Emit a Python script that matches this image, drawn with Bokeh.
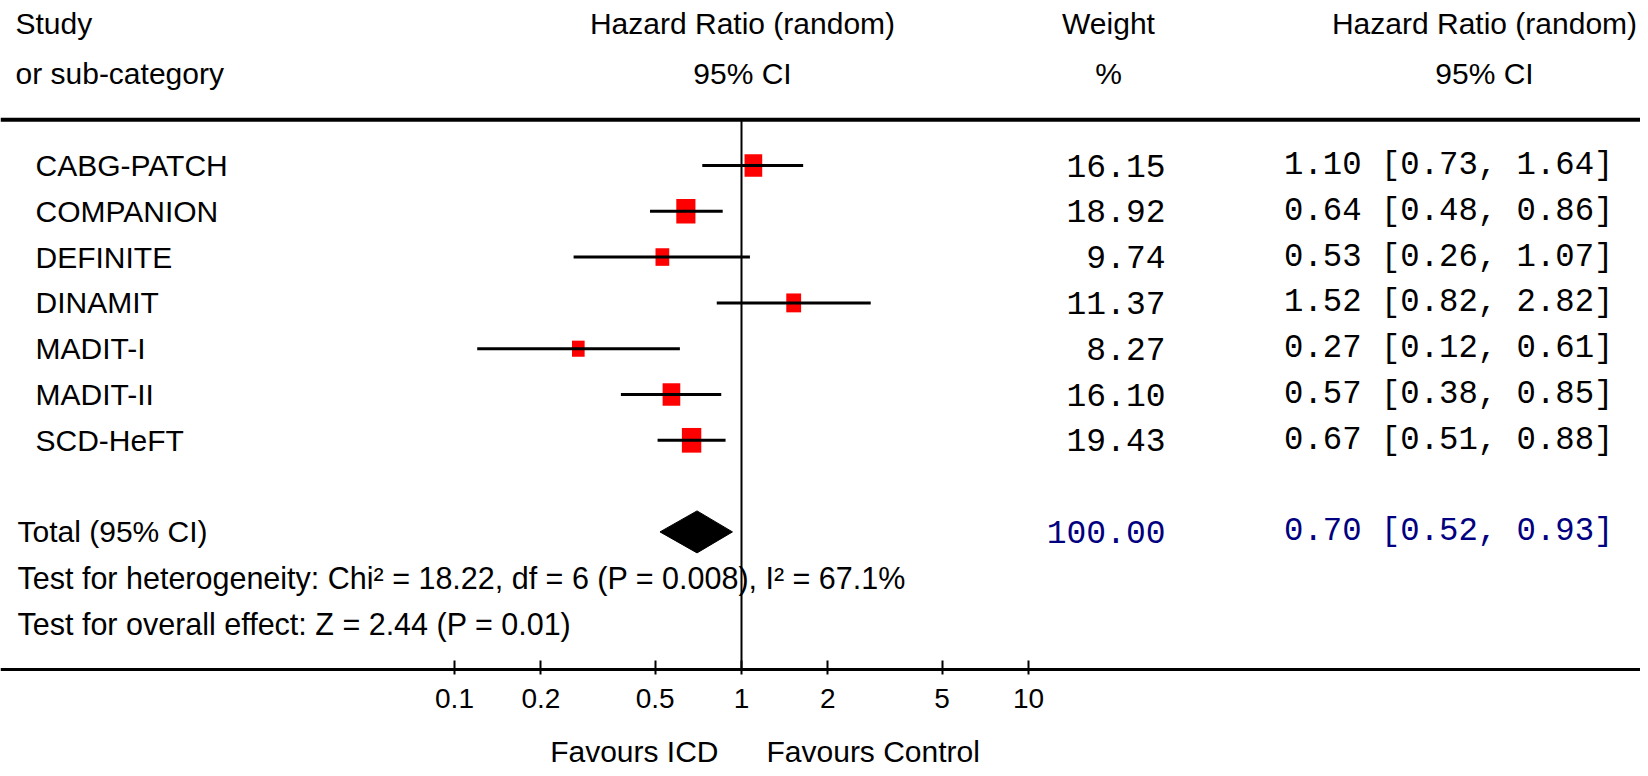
import math
from bokeh.plotting import figure
from bokeh.models import (ColumnDataSource, Range1d, FixedTicker, Span, Label,
                          LabelSet, LogAxis)
from bokeh.core.properties import value
from bokeh.embed import file_html
from bokeh.resources import INLINE

# ---------------- data ----------------
studies = ["CABG-PATCH", "COMPANION", "DEFINITE", "DINAMIT", "MADIT-I", "MADIT-II", "SCD-HeFT"]
weights = [16.15, 18.92, 9.74, 11.37, 8.27, 16.10, 19.43]
hr = [1.10, 0.64, 0.53, 1.52, 0.27, 0.57, 0.67]
ci_low = [0.73, 0.48, 0.26, 0.82, 0.12, 0.38, 0.51]
ci_high = [1.64, 0.86, 1.07, 2.82, 0.61, 0.85, 0.88]

total_weight = 100.00
total_hr = 0.70
total_low = 0.52
total_high = 0.93
null_effect = 1.0

tick_values = [0.1, 0.2, 0.5, 1, 2, 5, 10]
tick_labels = ["0.1", "0.2", "0.5", "1", "2", "5", "10"]

header_study = ["Study", "or sub-category"]
header_hr = ["Hazard Ratio (random)", "95% CI"]
header_weight = ["Weight", "%"]
total_label = "Total (95% CI)"
heterogeneity_text = "Test for heterogeneity: Chi\u00b2 = 18.22, df = 6 (P = 0.008), I\u00b2 = 67.1%"
overall_text = "Test for overall effect: Z = 2.44 (P = 0.01)"
favours_left = "Favours ICD"
favours_right = "Favours Control"

# ---------------- layout ----------------
W, H = 1640, 772
ROW_PX = 45.8
ROW0_Y = 165.0           # pixel y of first study row
PX_PER_DEC = 287.0
X_ONE = 741.0            # pixel x of HR = 1

r_top = -ROW0_Y / ROW_PX
r_bot = (H - ROW0_Y) / ROW_PX
x_lo = 10 ** (-X_ONE / PX_PER_DEC)
x_hi = 10 ** ((W - X_ONE) / PX_PER_DEC)

TOP_RULE_ROW = -1
TOTAL_ROW = 8
HET_ROW = 9
OVERALL_ROW = 10
AXIS_ROW = 11
FAVOURS_ROW = (751 - ROW0_Y) / ROW_PX
HDR1, HDR2 = -3.10, -2.0

SANS = "Liberation Sans"
MONO = "Liberation Mono"
SANS_SIZE = "30px"
MONO_SIZE_W = "33px"
MONO_SIZE_HR = "32.3px"

rows = list(range(len(studies)))
src = ColumnDataSource(dict(
    row=rows,
    study=studies,
    hr=hr,
    lo=ci_low,
    hi=ci_high,
    wtxt=["%.2f" % w for w in weights],
    hrtxt=["%.2f [%.2f, %.2f]" % (a, b, c) for a, b, c in zip(hr, ci_low, ci_high)],
    w_px=[4.4 * math.sqrt(w) for w in weights],
    h_px=[5.6 * math.sqrt(w) for w in weights],
))

p = figure(width=W, height=H, x_axis_type="log",
           x_range=Range1d(x_lo, x_hi), y_range=Range1d(r_bot, r_top),
           x_axis_location=None, y_axis_location=None,
           toolbar_location=None, output_backend="svg",
           min_border=0)
p.grid.visible = False
p.outline_line_color = None
p.background_fill_color = "white"
p.border_fill_color = "white"

# x axis, drawn at a fixed row inside the plot
ax = LogAxis(fixed_location=AXIS_ROW,
             ticker=FixedTicker(ticks=tick_values, minor_ticks=[]))
ax.major_label_overrides = {v: t for v, t in zip(tick_values, tick_labels)}
ax.major_label_text_font = SANS
ax.major_label_text_font_size = "28px"
ax.major_label_text_color = "black"
ax.major_label_standoff = 15
ax.axis_line_width = 3
ax.axis_line_color = "black"
ax.major_tick_line_width = 2
ax.major_tick_line_color = "black"
ax.major_tick_in = 9
ax.major_tick_out = 5
ax.minor_tick_in = 0
ax.minor_tick_out = 0
p.add_layout(ax, "below")

# top rule
p.add_layout(Span(location=TOP_RULE_ROW, dimension="width", line_color="black", line_width=4))

# line of no effect
p.segment(x0=[null_effect], x1=[null_effect], y0=[TOP_RULE_ROW], y1=[AXIS_ROW],
          line_color="black", line_width=2)

# study boxes + CIs
p.rect(x="hr", y="row", width="w_px", height="h_px", width_units="screen",
       height_units="screen", fill_color="#ff0000", line_color=None, source=src)
p.segment(x0="lo", y0="row", x1="hi", y1="row", line_color="black",
          line_width=3, source=src)

# total diamond
dh = 21.0 / ROW_PX
p.patch(x=[total_low, total_hr, total_high, total_hr],
        y=[TOTAL_ROW, TOTAL_ROW - dh, TOTAL_ROW, TOTAL_ROW + dh],
        fill_color="black", line_color="black", line_width=1)

# columns of text
p.add_layout(LabelSet(x=35, y="row", text="study", x_units="screen", source=src,
                      text_font=value(SANS), text_font_size=value(SANS_SIZE),
                      text_baseline="middle", text_align="left", text_color="black"))
p.add_layout(LabelSet(x=1165, y="row", text="wtxt", x_units="screen", source=src,
                      text_font=value(MONO), text_font_size=value(MONO_SIZE_W),
                      text_baseline="middle", text_align="right", text_color="black"))
p.add_layout(LabelSet(x=1613, y="row", text="hrtxt", x_units="screen", source=src,
                      text_font=value(MONO), text_font_size=value(MONO_SIZE_HR),
                      text_baseline="middle", text_align="right", text_color="black"))


def lab(text, x, y, align="left", font=SANS, size=SANS_SIZE, color="black"):
    p.add_layout(Label(x=x, y=y, x_units="screen", y_units="data", text=text,
                       text_font=font, text_font_size=size, text_color=color,
                       text_align=align, text_baseline="middle"))


lab(header_study[0], 15, HDR1)
lab(header_study[1], 15, HDR2)
lab(header_hr[0], 742, HDR1, align="center")
lab(header_hr[1], 742, HDR2, align="center")
lab(header_weight[0], 1108, HDR1, align="center")
lab(header_weight[1], 1108, HDR2, align="center")
lab(header_hr[0], 1484, HDR1, align="center")
lab(header_hr[1], 1484, HDR2, align="center")

lab(total_label, 17, TOTAL_ROW)
lab("%.2f" % total_weight, 1165, TOTAL_ROW, align="right", font=MONO, size=MONO_SIZE_W, color="#000080")
lab("%.2f [%.2f, %.2f]" % (total_hr, total_low, total_high), 1613, TOTAL_ROW,
    align="right", font=MONO, size=MONO_SIZE_HR, color="#000080")
lab(heterogeneity_text, 17, HET_ROW, size="30.5px")
lab(overall_text, 17, OVERALL_ROW, size="30.5px")

lab(favours_left, 718, FAVOURS_ROW, align="right")
lab(favours_right, 766, FAVOURS_ROW, align="left")

open("out.html", "w").write(file_html(p, INLINE))
